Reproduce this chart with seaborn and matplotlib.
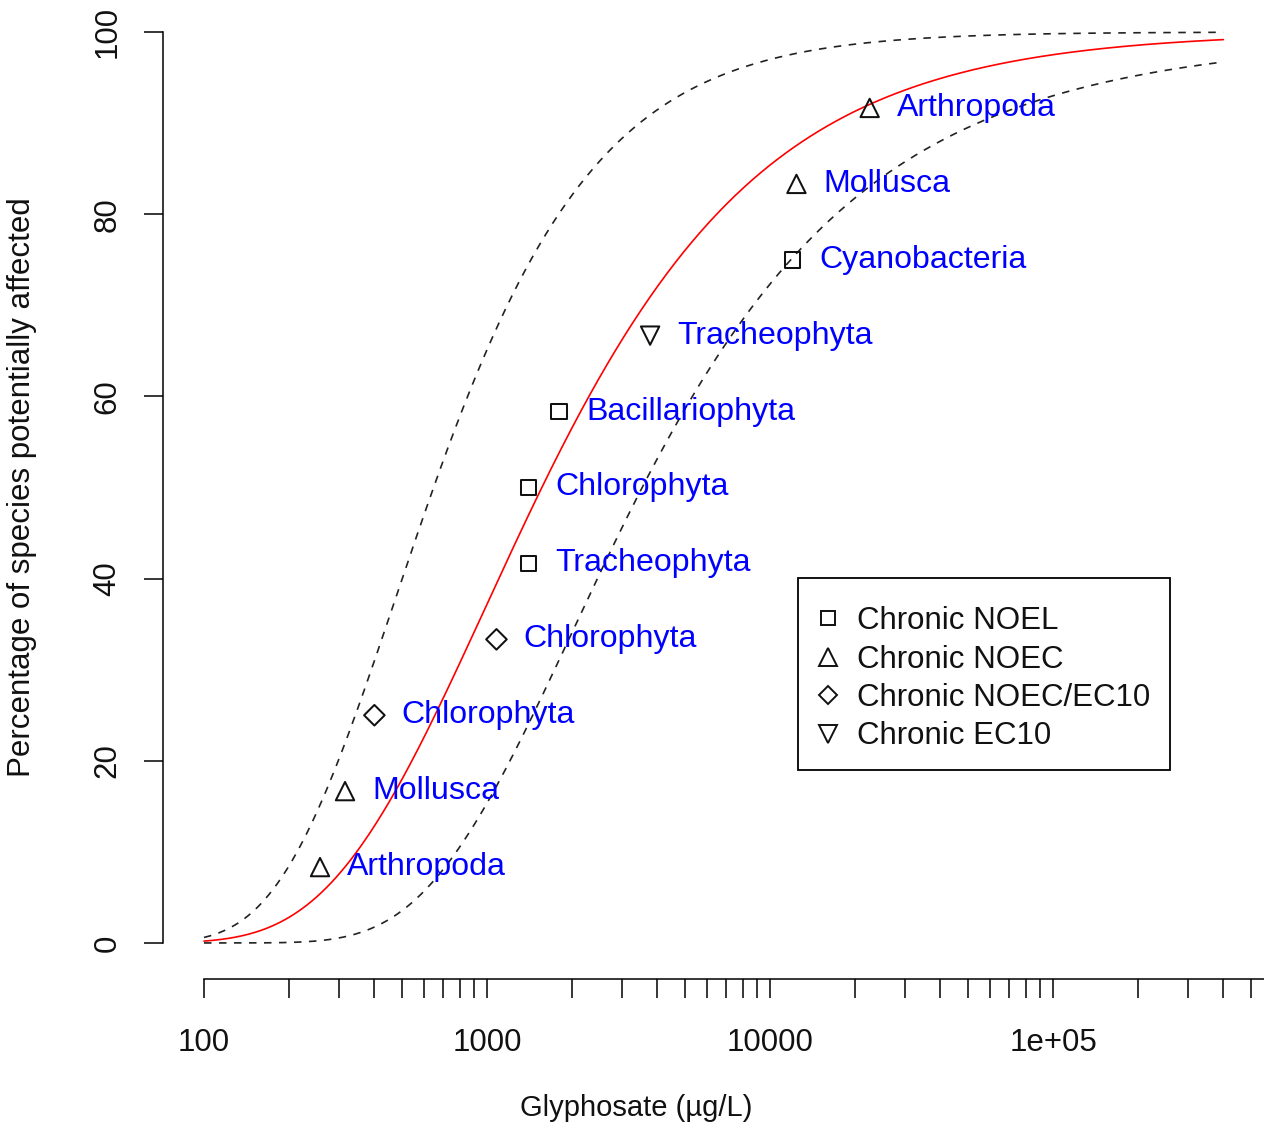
import numpy as np
import pandas as pd
import matplotlib
matplotlib.use("Agg")
import matplotlib.pyplot as plt
from matplotlib.lines import Line2D
from matplotlib.patches import Rectangle
from matplotlib.ticker import FixedLocator, NullFormatter
import seaborn as sns

# Chronic toxicity endpoints, ranked from most to least sensitive
taxa = ["Arthropoda", "Mollusca", "Chlorophyta", "Chlorophyta", "Tracheophyta",
        "Chlorophyta", "Bacillariophyta", "Tracheophyta", "Cyanobacteria",
        "Mollusca", "Arthropoda"]
endpoints = ["Chronic NOEC", "Chronic NOEC", "Chronic NOEC/EC10", "Chronic NOEC/EC10",
             "Chronic NOEL", "Chronic NOEL", "Chronic NOEL", "Chronic EC10",
             "Chronic NOEL", "Chronic NOEC", "Chronic NOEC"]
concentration = [257, 315, 400, 1080, 1400, 1400, 1800, 3770, 12000, 12400, 22500]
percent_affected = [8.33, 16.67, 25.0, 33.33, 41.67, 50.0, 58.33, 66.67, 75.0, 83.33, 91.67]

endpoint_order = ["Chronic NOEL", "Chronic NOEC", "Chronic NOEC/EC10", "Chronic EC10"]
endpoint_markers = ["s", "^", "D", "v"]
marker_area = [125, 175, 110, 175]      # scatter sizes per marker shape
legend_ms = [10, 12.5, 9.5, 12.5]

# Fitted log-Gumbel species sensitivity distribution (log10 location, scale)
fit_loc, fit_scale = 2.994, 0.545

# Confidence limits of the fit: (concentration, percent) pairs
upper_conc = [100, 171, 228, 315, 386, 640, 857, 4690, 10840, 28840]
upper_pct = [1.3, 5.8, 11.0, 16.7, 25.0, 50.0, 60.0, 93.6, 97.7, 99.0]
lower_conc = [286, 419, 724, 984, 1318, 1811, 2399, 3499, 4808, 7396,
              12760, 23880, 55210, 82220, 103300, 162900, 399000]
lower_pct = [0.3, 1.6, 8.3, 16.7, 25.0, 33.3, 41.7, 50.0, 58.3, 66.7,
             75.0, 83.3, 89.6, 91.7, 92.9, 94.7, 97.0]

curve_from, curve_to = 100, 4e5
x_ticks = [100, 1000, 10000, 100000]
x_tick_labels = ["100", "1000", "10000", "1e+05"]
x_minor_ticks = [m * d for d in (100, 1000, 10000, 100000) for m in range(2, 10)]
y_ticks = [0, 20, 40, 60, 80, 100]

sns.set_theme(style="white")
plt.rcParams["font.family"] = ["Liberation Sans", "DejaVu Sans"]

W, H = 1264, 1126
fig = plt.figure(figsize=(W / 100, H / 100), dpi=100)
ax = fig.add_axes([163 / W, (H - 979.4) / H, (1271 - 163) / W, 983.8 / H])
ax.set_xscale("log")
ax.set_xlim(10 ** 1.8551, 10 ** 5.7703)
ax.set_ylim(-4, 104)


def gumbel_t(p):
    p = np.asarray(p, dtype=float) / 100.0
    return -np.log(-np.log(p))


def gumbel_pct(t):
    return 100.0 * np.exp(-np.exp(-t))


grid = np.logspace(np.log10(curve_from), np.log10(curve_to), 600)
lg = np.log10(grid)

fit_pct = gumbel_pct((lg - fit_loc) / fit_scale)
up_coef = np.polyfit(np.log10(upper_conc), gumbel_t(upper_pct), 2)
lo_coef = np.polyfit(np.log10(lower_conc), gumbel_t(lower_pct), 2)
up_pct = gumbel_pct(np.polyval(up_coef, lg))
lo_pct = gumbel_pct(np.polyval(lo_coef, lg))

curves = pd.DataFrame({
    "conc": np.concatenate([grid, grid, grid]),
    "pct": np.concatenate([fit_pct, up_pct, lo_pct]),
    "curve": ["fit"] * len(grid) + ["upper"] * len(grid) + ["lower"] * len(grid),
})
sns.lineplot(data=curves[curves.curve == "fit"], x="conc", y="pct", color="#ff0000",
             lw=1.2, ax=ax, legend=False, estimator=None)
for name in ["upper", "lower"]:
    sns.lineplot(data=curves[curves.curve == name], x="conc", y="pct", color="#222222",
                 lw=1.2, ls=(0, (4.5, 4.5)), ax=ax, legend=False, estimator=None)

points = pd.DataFrame({"conc": concentration, "pct": percent_affected,
                       "endpoint": endpoints, "taxon": taxa})
for ep, mk, area in zip(endpoint_order, endpoint_markers, marker_area):
    sub = points[points.endpoint == ep]
    sns.scatterplot(data=sub, x="conc", y="pct", marker=mk, s=area, color="black",
                    linewidth=1.45, legend=False, ax=ax, zorder=5)
    coll = ax.collections[-1]
    coll.set_facecolor("none")
    coll.set_edgecolor("#111111")

for c, p, name in zip(concentration, percent_affected, taxa):
    ax.annotate(name, (c, p), xytext=(19.5, 0), textcoords="offset points",
                va="center", ha="left", color="#0000ff", fontsize=23.1)

# detached axes in the base-graphics manner
for side in ["top", "right"]:
    ax.spines[side].set_visible(False)
ax.spines["left"].set_bounds(0, 100)
ax.spines["bottom"].set_bounds(100, 10 ** 5.7703)
for side in ["left", "bottom"]:
    ax.spines[side].set_color("black")
    ax.spines[side].set_linewidth(1.1)

ax.xaxis.set_major_locator(FixedLocator(x_ticks))
ax.xaxis.set_minor_locator(FixedLocator(x_minor_ticks))
ax.xaxis.set_minor_formatter(NullFormatter())
ax.set_xticklabels(x_tick_labels)
ax.set_yticks(y_ticks)
ax.set_yticklabels([str(v) for v in y_ticks], rotation=90, va="center")
ax.tick_params(axis="both", which="both", direction="out", length=14, width=1.1,
               color="black", labelsize=22.5, labelcolor="#111111")
ax.tick_params(axis="x", which="both", pad=21, bottom=True)
ax.tick_params(axis="y", pad=15, left=True)
ax.set_xlabel("")
ax.set_ylabel("")
ax.grid(False)

fig.text(22 / W, 1 - 487 / H, "Percentage of species potentially affected",
         rotation=90, ha="center", va="center", fontsize=22.5, color="#111111")
fig.text(636 / W, 1 - 1108 / H, "Glyphosate (\u00b5g/L)", ha="center", va="center",
         fontsize=21.0, color="#111111")

handles = [Line2D([], [], marker=m, ls="none", mfc="none", mec="#111111", ms=ms, mew=1.4)
           for m, ms in zip(endpoint_markers, legend_ms)]
leg = fig.legend(handles, endpoint_order, loc="upper left",
                 bbox_to_anchor=(798 / W, 1 - 590.5 / H), bbox_transform=fig.transFigure,
                 borderaxespad=0, borderpad=0.5, handlelength=0.9, handletextpad=0.5,
                 labelspacing=0.27, fontsize=22.5, frameon=False)
for t in leg.get_texts():
    t.set_color("#111111")
fig.patches.append(Rectangle((798 / W, 1 - 770 / H), (1170 - 798) / W, (770 - 578) / H,
                             transform=fig.transFigure, fill=False, edgecolor="black",
                             linewidth=1.3, zorder=10))

fig.savefig("out.png", dpi=100, facecolor="white")
